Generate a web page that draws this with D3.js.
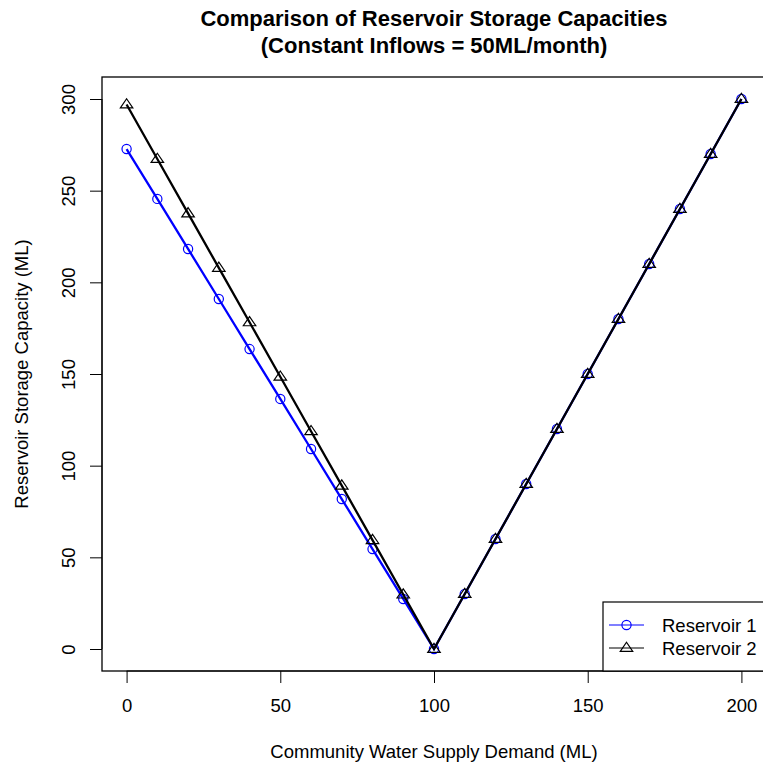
<!DOCTYPE html>
<html>
<head>
<meta charset="utf-8">
<script src="https://cdn.jsdelivr.net/npm/d3@7"></script>
<style>
  body { margin: 0; background: #fff; }
  text { font-family: "Liberation Sans", Arial, sans-serif; fill: #000; }
</style>
</head>
<body>
<div id="chart"></div>
<script>
// demand levels (ML)
const demand = [0, 10, 20, 30, 40, 50, 60, 70, 80, 90, 100, 110, 120, 130, 140, 150, 160, 170, 180, 190, 200];
// storage capacity
const reservoir1 = [272.7, 245.5, 218.2, 190.9, 163.6, 136.4, 109.1, 81.8, 54.5, 27.3, 0, 30, 60, 90, 120, 150, 180, 210, 240, 270, 300];
const reservoir2 = [297, 267.3, 237.6, 207.9, 178.2, 148.5, 118.8, 89.1, 59.4, 29.7, 0, 30, 60, 90, 120, 150, 180, 210, 240, 270, 300];
const xTicks = [0, 50, 100, 150, 200];
const yTicks = [0, 50, 100, 150, 200, 250, 300];
const seriesNames = ["Reservoir 1", "Reservoir 2"];

const W = 763, H = 767;
const FS = 18.5; // base font size
const margin = { top: 77, right: -3, bottom: 96, left: 102 };
const width = W - margin.left - margin.right;
const height = H - margin.top - margin.bottom;

const svg = d3.select('#chart').append('svg')
  .attr('width', W)
  .attr('height', H);

// R style: 4% padding on both axes
const x = d3.scaleLinear().domain([-8, 208]).range([margin.left, margin.left + width]);
const y = d3.scaleLinear().domain([-12, 312]).range([margin.top + height, margin.top]);

// title
const title = svg.append('text')
  .attr('text-anchor', 'middle')
  .attr('font-weight', 'bold')
  .attr('font-size', 22);
title.append('tspan').attr('x', x(100)).attr('y', 26).text('Comparison of Reservoir Storage Capacities');
title.append('tspan').attr('x', x(100)).attr('y', 53).text('(Constant Inflows = 50ML/month)');

// axes
const xAxis = d3.axisBottom(x).tickValues(xTicks).tickSize(12).tickPadding(16).tickFormat(d3.format('d'));
const yAxis = d3.axisLeft(y).tickValues(yTicks).tickSize(12).tickPadding(5).tickFormat(d3.format('d'));

const gx = svg.append('g')
  .attr('transform', `translate(0,${margin.top + height})`)
  .call(xAxis);
gx.select('.domain').attr('d', `M${x(0)},0H${x(200)}`).attr('stroke', '#000');
gx.selectAll('text').attr('font-size', FS).attr('font-family', '"Liberation Sans", Arial, sans-serif');

const gy = svg.append('g')
  .attr('transform', `translate(${margin.left},0)`)
  .call(yAxis);
gy.select('.domain').attr('d', `M0,${y(0)}V${y(300)}`).attr('stroke', '#000');
gy.selectAll('.tick text')
  .attr('font-size', FS)
  .attr('font-family', '"Liberation Sans", Arial, sans-serif')
  .attr('text-anchor', 'middle')
  .attr('dy', 0)
  .attr('x', 0)
  .attr('transform', 'translate(-27,0) rotate(-90)');

// plot box
svg.append('rect')
  .attr('x', margin.left)
  .attr('y', margin.top)
  .attr('width', width)
  .attr('height', height)
  .attr('fill', 'none')
  .attr('stroke', '#000')
  .attr('stroke-width', 1.3);

// axis labels
svg.append('text')
  .attr('x', x(100))
  .attr('y', 758)
  .attr('text-anchor', 'middle')
  .attr('font-size', FS)
  .text('Community Water Supply Demand (ML)');

svg.append('text')
  .attr('transform', `translate(28,${y(150)}) rotate(-90)`)
  .attr('text-anchor', 'middle')
  .attr('font-size', FS)
  .text('Reservoir Storage Capacity (ML)');

const line = d3.line().x(d => x(d[0])).y(d => y(d[1]));
const data1 = demand.map((d, i) => [d, reservoir1[i]]);
const data2 = demand.map((d, i) => [d, reservoir2[i]]);

const triPath = (cx, cy, r) => {
  const h = r * 1.1;
  return `M${cx},${cy - h}L${cx + r * 1.2},${cy + h * 0.6}L${cx - r * 1.2},${cy + h * 0.6}Z`;
};

// Reservoir 1
svg.append('path').datum(data1)
  .attr('d', line).attr('fill', 'none').attr('stroke', '#0000ff').attr('stroke-width', 2.3);
svg.selectAll('.pt1').data(data1).enter().append('circle')
  .attr('class', 'pt1')
  .attr('cx', d => x(d[0])).attr('cy', d => y(d[1])).attr('r', 4.6)
  .attr('fill', 'none').attr('stroke', '#0000ff').attr('stroke-width', 1.2);

// Reservoir 2
svg.append('path').datum(data2)
  .attr('d', line).attr('fill', 'none').attr('stroke', '#000').attr('stroke-width', 2.3);
svg.selectAll('.pt2').data(data2).enter().append('path')
  .attr('class', 'pt2')
  .attr('d', d => triPath(x(d[0]), y(d[1]), 5.2))
  .attr('fill', 'none').attr('stroke', '#000').attr('stroke-width', 1.2);

// legend (bottom right, inside the box)
const legend = svg.append('g');
legend.append('rect')
  .attr('x', 603).attr('y', 602)
  .attr('width', margin.left + width - 603)
  .attr('height', margin.top + height - 602)
  .attr('fill', '#fff').attr('stroke', '#000').attr('stroke-width', 1.2);

const legColors = ['#0000ff', '#000'];
seriesNames.forEach((name, i) => {
  const ly = 625 + i * 23;
  legend.append('line')
    .attr('x1', 609).attr('x2', 644).attr('y1', ly).attr('y2', ly)
    .attr('stroke', legColors[i]).attr('stroke-width', 1.2);
  if (i === 0) {
    legend.append('circle').attr('cx', 626.5).attr('cy', ly).attr('r', 4.6)
      .attr('fill', 'none').attr('stroke', legColors[i]).attr('stroke-width', 1.2);
  } else {
    legend.append('path').attr('d', triPath(626.5, ly, 5.2))
      .attr('fill', 'none').attr('stroke', legColors[i]).attr('stroke-width', 1.2);
  }
  legend.append('text')
    .attr('x', 662).attr('y', ly + 6.6)
    .attr('font-size', FS)
    .text(name);
});
</script>
</body>
</html>
